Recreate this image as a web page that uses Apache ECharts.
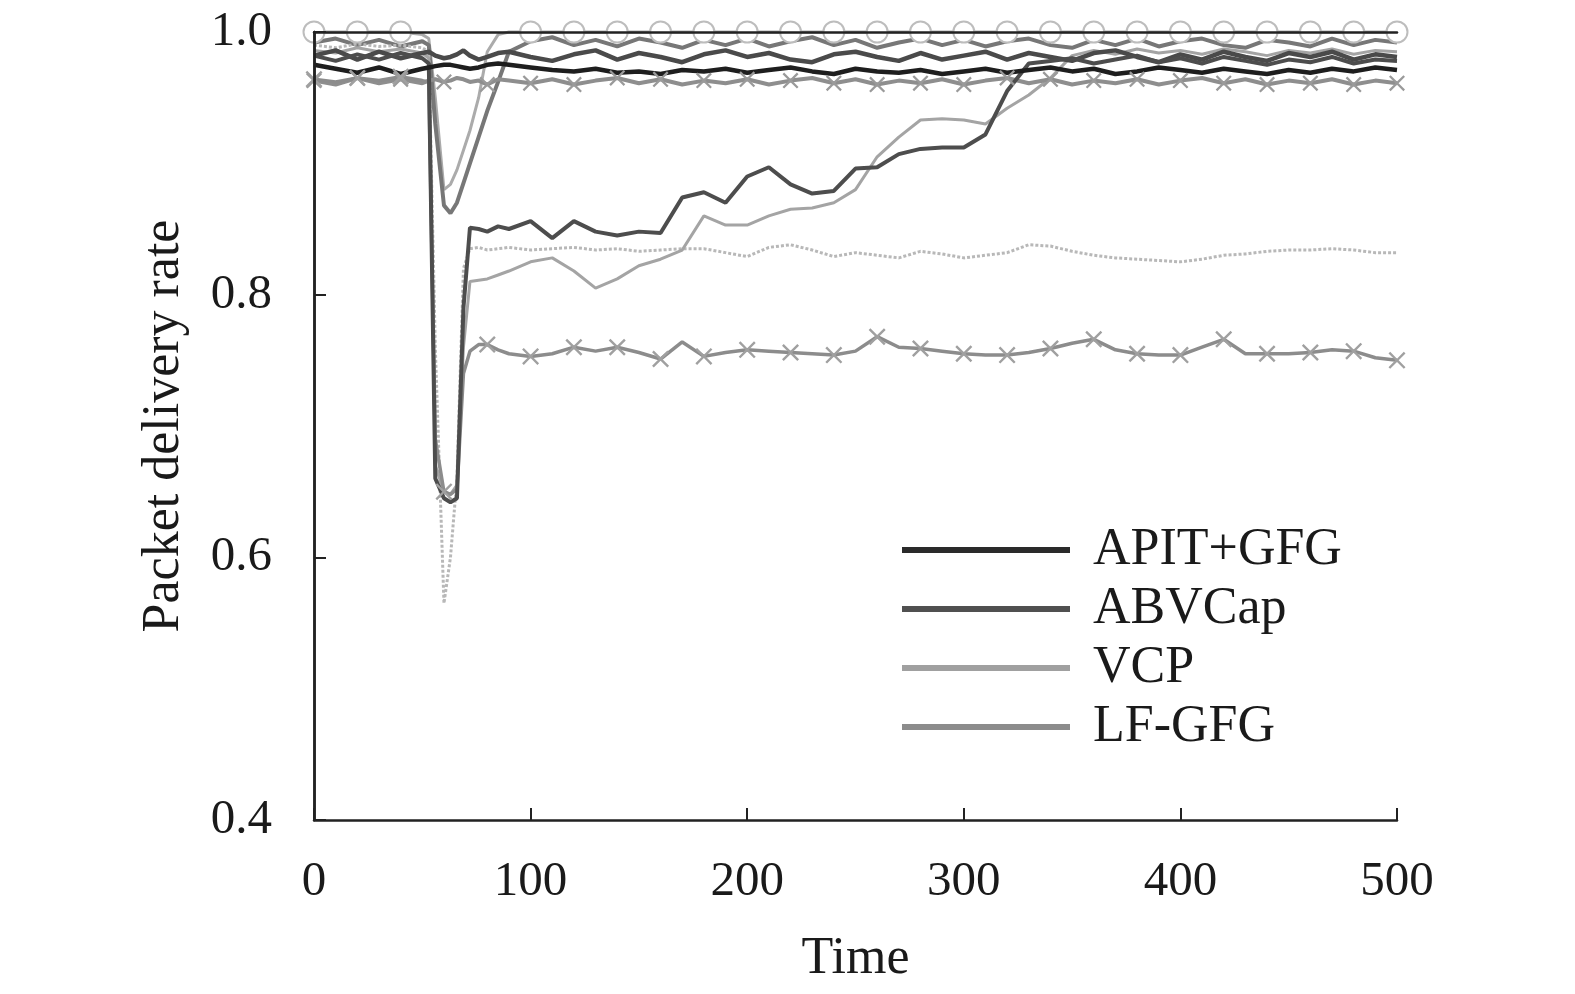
<!DOCTYPE html>
<html>
<head>
<meta charset="utf-8">
<script src="https://cdn.jsdelivr.net/npm/echarts@6/dist/echarts.min.js"></script>
<style>
  html, body { margin: 0; padding: 0; background: #fff; }
  #chart { width: 1575px; height: 994px; }
</style>
</head>
<body>
<div id="chart"></div>
<script>
// time axis samples (dense around the drop near t = 55)
var timeSteps = [0, 10, 20, 30, 40, 50, 53, 56, 60, 63, 66, 69, 72, 76, 80, 85, 90,
  100, 110, 120, 130, 140, 150, 160, 170, 180, 190,
  200, 210, 220, 230, 240, 250, 260, 270, 280, 290,
  300, 310, 320, 330, 340, 350, 360, 370, 380, 390,
  400, 410, 420, 430, 440, 450, 460, 470, 480, 490, 500];

var xTicks = [0, 100, 200, 300, 400, 500];
var yTicks = [0.4, 0.6, 0.8, 1.0];

// legend series
var apitGfg = [0.975, 0.972, 0.969, 0.973, 0.968, 0.972, 0.973, 0.974, 0.975, 0.975, 0.974, 0.973, 0.972, 0.973, 0.975, 0.976, 0.975,
  0.973, 0.971, 0.970, 0.972, 0.969, 0.970, 0.968, 0.971, 0.970, 0.972,
  0.969, 0.971, 0.973, 0.970, 0.968, 0.972, 0.970, 0.969, 0.971, 0.968,
  0.970, 0.972, 0.969, 0.971, 0.973, 0.970, 0.972, 0.968, 0.970, 0.973,
  0.971, 0.969, 0.972, 0.970, 0.968, 0.971, 0.969, 0.972, 0.970, 0.973, 0.971];

var abvcap = [0.982, 0.978, 0.983, 0.979, 0.984, 0.980, 0.976, 0.660, 0.645, 0.642, 0.645, 0.790, 0.851, 0.850, 0.848, 0.852, 0.850,
  0.856, 0.843, 0.856, 0.848, 0.845, 0.848, 0.847, 0.874, 0.878, 0.870,
  0.890, 0.897, 0.884, 0.877, 0.879, 0.896, 0.897, 0.907, 0.911, 0.912,
  0.912, 0.922, 0.955, 0.976, 0.978, 0.980, 0.976, 0.979, 0.982, 0.977,
  0.980, 0.976, 0.981, 0.978, 0.975, 0.979, 0.977, 0.981, 0.976, 0.979, 0.978];

var vcp = [0.990, 0.988, 0.991, 0.989, 0.990, 0.988, 0.985, 0.760, 0.565, 0.600, 0.660, 0.820, 0.835, 0.836, 0.834, 0.835, 0.836,
  0.834, 0.835, 0.836, 0.834, 0.835, 0.833, 0.834, 0.835, 0.835, 0.832,
  0.829, 0.836, 0.838, 0.834, 0.829, 0.832, 0.830, 0.828, 0.833, 0.831,
  0.828, 0.830, 0.832, 0.838, 0.837, 0.833, 0.830, 0.828, 0.827, 0.826,
  0.825, 0.827, 0.830, 0.831, 0.833, 0.834, 0.834, 0.835, 0.834, 0.832, 0.832];

var lfGfg = [0.964, 0.962, 0.965, 0.963, 0.966, 0.963, 0.962, 0.690, 0.650, 0.648, 0.652, 0.740, 0.757, 0.762, 0.762, 0.758, 0.755,
  0.753, 0.755, 0.760, 0.757, 0.760, 0.756, 0.751, 0.764, 0.753, 0.756,
  0.758, 0.757, 0.756, 0.755, 0.754, 0.757, 0.768, 0.760, 0.759, 0.757,
  0.755, 0.754, 0.754, 0.756, 0.759, 0.763, 0.766, 0.758, 0.755, 0.754,
  0.754, 0.760, 0.766, 0.755, 0.755, 0.755, 0.756, 0.758, 0.757, 0.752, 0.750];

// other curves in the picture (no legend entry)
var riseLight = [0.986, 0.984, 0.988, 0.985, 0.987, 0.984, 0.980, 0.670, 0.650, 0.648, 0.655, 0.760, 0.810, 0.811, 0.812, 0.815, 0.818,
  0.825, 0.828, 0.818, 0.805, 0.812, 0.822, 0.827, 0.834, 0.860, 0.853,
  0.853, 0.860, 0.865, 0.866, 0.870, 0.880, 0.905, 0.920, 0.933, 0.934,
  0.933, 0.930, 0.942, 0.952, 0.965, 0.982, 0.986, 0.983, 0.987, 0.984,
  0.986, 0.983, 0.987, 0.985, 0.982, 0.986, 0.984, 0.987, 0.983, 0.986, 0.985];

var bandCircle = [1.000, 1.000, 1.000, 1.000, 1.000, 0.998, 0.995, 0.950, 0.880, 0.884, 0.895, 0.910, 0.925, 0.950, 0.985, 0.998, 1.000,
  1.000, 1.000, 1.000, 1.000, 1.000, 1.000, 1.000, 1.000, 1.000, 1.000,
  1.000, 1.000, 1.000, 1.000, 1.000, 1.000, 1.000, 1.000, 1.000, 1.000,
  1.000, 1.000, 1.000, 1.000, 1.000, 1.000, 1.000, 1.000, 1.000, 1.000,
  1.000, 1.000, 1.000, 1.000, 1.000, 1.000, 1.000, 1.000, 1.000, 1.000, 1.000];

var bandDip = [0.992, 0.995, 0.990, 0.994, 0.989, 0.993, 0.990, 0.930, 0.868, 0.862, 0.870, 0.885, 0.900, 0.920, 0.940, 0.962, 0.985,
  0.993, 0.996, 0.990, 0.994, 0.989, 0.995, 0.992, 0.988, 0.994, 0.990,
  0.995, 0.989, 0.993, 0.996, 0.990, 0.994, 0.988, 0.992, 0.995, 0.990,
  0.994, 0.989, 0.993, 0.995, 0.990, 0.988, 0.994, 0.990, 0.995, 0.989,
  0.993, 0.995, 0.990, 0.988, 0.994, 0.992, 0.989, 0.995, 0.990, 0.994, 0.992];

var bandDark = [0.982, 0.986, 0.979, 0.985, 0.980, 0.984, 0.985, 0.982, 0.980, 0.981, 0.983, 0.986, 0.982, 0.979, 0.981, 0.984, 0.985,
  0.981, 0.978, 0.983, 0.986, 0.979, 0.984, 0.981, 0.977, 0.983, 0.986,
  0.981, 0.984, 0.979, 0.977, 0.983, 0.985, 0.981, 0.978, 0.984, 0.979,
  0.982, 0.985, 0.979, 0.984, 0.981, 0.978, 0.984, 0.986, 0.981, 0.977,
  0.983, 0.979, 0.985, 0.981, 0.978, 0.984, 0.981, 0.985, 0.979, 0.983, 0.981];

var bandCross = [0.963, 0.960, 0.965, 0.961, 0.964, 0.961, 0.963, 0.964, 0.962, 0.963, 0.965, 0.964, 0.962, 0.963, 0.960, 0.964, 0.963,
  0.961, 0.964, 0.960, 0.963, 0.965, 0.961, 0.964, 0.960, 0.963, 0.961,
  0.964, 0.960, 0.963, 0.965, 0.961, 0.964, 0.960, 0.963, 0.961, 0.964,
  0.960, 0.963, 0.965, 0.961, 0.964, 0.960, 0.963, 0.961, 0.964, 0.960,
  0.963, 0.965, 0.961, 0.964, 0.960, 0.963, 0.961, 0.964, 0.960, 0.963, 0.961];

var FONT = 'Liberation Serif';
var crossPath = 'path://M0,1L1,0L5,4L9,0L10,1L6,5L10,9L9,10L5,6L1,10L0,9L4,5Z';
var FRAME = { show: true, lineStyle: { color: '#222', width: 2.5 } };

function pairs(vals) {
  var out = [];
  for (var i = 0; i < timeSteps.length; i++) out.push([timeSteps[i], vals[i]]);
  return out;
}
// markers only every 20 time units
function every20(size, minVal) {
  return function (v) {
    if (v[0] % 20 !== 0) return 0;
    if (minVal && v[1] < minVal) return 0;
    return size;
  };
}

function lineSeries(name, vals, color, width, extra) {
  var s = {
    name: name,
    type: 'line',
    data: pairs(vals),
    showSymbol: false,
    symbol: 'none',
    clip: false,
    lineStyle: { color: color, width: width },
    itemStyle: { color: color },
    emphasis: { disabled: true }
  };
  for (var k in extra) s[k] = extra[k];
  return s;
}

var myChart = echarts.init(document.getElementById('chart'));

var option = {
  animation: false,
  backgroundColor: '#fff',
  grid: {
    left: 314, right: 178, top: 32, bottom: 174,
    outerBoundsMode: 'none',
    containLabel: false
  },
  legend: {
    orient: 'vertical',
    left: 897,
    top: 519,
    itemWidth: 168,
    itemHeight: 6,
    itemGap: 7,
    icon: 'rect',
    selectedMode: false,
    textStyle: { fontFamily: FONT, fontSize: 52, color: '#1a1a1a', padding: [0, 0, 0, 18] },
    data: [
      { name: 'APIT+GFG', itemStyle: { color: '#2a2a2a' } },
      { name: 'ABVCap', itemStyle: { color: '#505050' } },
      { name: 'VCP', itemStyle: { color: '#a0a0a0' } },
      { name: 'LF-GFG', itemStyle: { color: '#8c8c8c' } }
    ]
  },
  xAxis: [{
    type: 'value',
    min: xTicks[0],
    max: xTicks[xTicks.length - 1],
    interval: 100,
    name: 'Time',
    nameLocation: 'middle',
    nameGap: 113,
    nameTextStyle: { fontFamily: FONT, fontSize: 52, color: '#1a1a1a' },
    z: 5,
    axisLine: FRAME,
    axisTick: { show: true, inside: true, length: 12, lineStyle: { color: '#222', width: 2 } },
    axisLabel: { fontFamily: FONT, fontSize: 49, color: '#1a1a1a', margin: 38 },
    splitLine: { show: false }
  }, {
    type: 'value', position: 'top',
    min: xTicks[0], max: xTicks[xTicks.length - 1], interval: 100,
    z: 5,
    axisLine: FRAME, axisTick: { show: false }, axisLabel: { show: false }, splitLine: { show: false }
  }],
  yAxis: [{
    type: 'value',
    min: yTicks[0],
    max: yTicks[yTicks.length - 1],
    interval: 0.2,
    name: 'Packet delivery rate',
    nameLocation: 'middle',
    nameGap: 124,
    nameTextStyle: { fontFamily: FONT, fontSize: 52, color: '#1a1a1a' },
    z: 5,
    axisLine: FRAME,
    axisTick: { show: true, inside: true, length: 12, lineStyle: { color: '#222', width: 2 } },
    axisLabel: {
      fontFamily: FONT, fontSize: 49, color: '#1a1a1a', margin: 42,
      formatter: function (v) { return v.toFixed(1); }
    },
    splitLine: { show: false }
  }, {
    type: 'value', position: 'right',
    min: yTicks[0], max: yTicks[yTicks.length - 1], interval: 0.2,
    z: 5,
    axisLine: FRAME, axisTick: { show: false }, axisLabel: { show: false }, splitLine: { show: false }
  }],
  series: [
    lineSeries('band-circle', bandCircle, '#ababab', 3, {
      showSymbol: true, symbol: 'emptyCircle', symbolSize: every20(21, 0.995),
      itemStyle: { color: '#bdbdbd', borderColor: '#bdbdbd', borderWidth: 2.5 }
    }),
    lineSeries('band-dip', bandDip, '#777777', 4),
    lineSeries('VCP', vcp, '#b8b8b8', 3, { lineStyle: { color: '#b8b8b8', width: 3, type: [3, 2] } }),
    lineSeries('rise-light', riseLight, '#a4a4a4', 3),
    lineSeries('band-cross', bandCross, '#8e8e8e', 4, {
      showSymbol: true, symbol: crossPath, symbolSize: every20(16),
      itemStyle: { color: '#9a9a9a' }
    }),
    lineSeries('LF-GFG', lfGfg, '#8c8c8c', 3.5, {
      showSymbol: true, symbol: crossPath, symbolSize: every20(17),
      itemStyle: { color: '#a0a0a0' }
    }),
    lineSeries('band-dark', bandDark, '#4a4a4a', 4.5),
    lineSeries('ABVCap', abvcap, '#4d4d4d', 4),
    lineSeries('APIT+GFG', apitGfg, '#1e1e1e', 4.5)
  ]
};

myChart.setOption(option);
window.onresize = myChart.resize;
</script>
</body>
</html>
